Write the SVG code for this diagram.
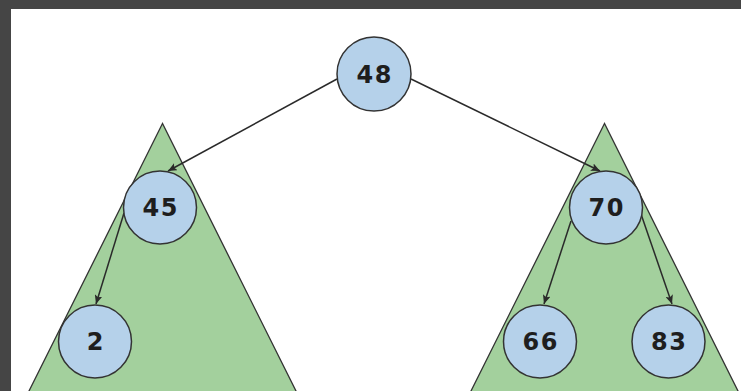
<svg xmlns="http://www.w3.org/2000/svg" width="741" height="391" viewBox="0 0 741 391">
<style>
.tri{fill:#a3d09d;stroke:#333;stroke-width:1.3}
.node circle{fill:#b5d1ea;stroke:#333;stroke-width:1.5}
.node text{font-family:"DejaVu Sans",sans-serif;font-weight:bold;font-size:24px;letter-spacing:1.5px;fill:#1e1e1e;text-anchor:middle}
.edge{stroke:#2a2a2a;stroke-width:1.5;fill:none;marker-end:url(#arr)}
</style>
<defs>
<marker id="arr" markerUnits="userSpaceOnUse" markerWidth="10" markerHeight="8" refX="9" refY="4" orient="auto">
<path d="M0,0 L9,4 L0,8 L2,4 z" fill="#2a2a2a"/>
</marker>
</defs>
<rect x="0" y="0" width="741" height="391" fill="#454545"/>
<rect x="11" y="9" width="730" height="382" fill="#ffffff"/>
<g id="subtrees">
<polygon class="tri" points="162.5,123.5 28,393 297,393"/>
<polygon class="tri" points="604.5,123.5 470,393 739,393"/>
</g>
<g id="connectors">
<line class="edge" x1="337" y1="79" x2="168" y2="171"/>
<line class="edge" x1="411" y1="79" x2="600" y2="171"/>
<line class="edge" x1="124" y1="213" x2="96" y2="304"/>
<line class="edge" x1="571" y1="221" x2="544" y2="304"/>
<line class="edge" x1="641" y1="214" x2="672" y2="304"/>
</g>
<g id="n48" class="node"><circle cx="374" cy="74" r="37"/><text x="374.75" y="82.5">48</text></g>
<g id="n45" class="node"><circle cx="160" cy="207.5" r="36.5"/><text x="160.75" y="216">45</text></g>
<g id="n70" class="node"><circle cx="606" cy="207.5" r="36.5"/><text x="606.75" y="216">70</text></g>
<g id="n2" class="node"><circle cx="95" cy="341.5" r="36.5"/><text x="95.75" y="350">2</text></g>
<g id="n66" class="node"><circle cx="540" cy="341.5" r="36.5"/><text x="540.75" y="350">66</text></g>
<g id="n83" class="node"><circle cx="668.5" cy="341.5" r="36.5"/><text x="669.25" y="350">83</text></g>
</svg>
